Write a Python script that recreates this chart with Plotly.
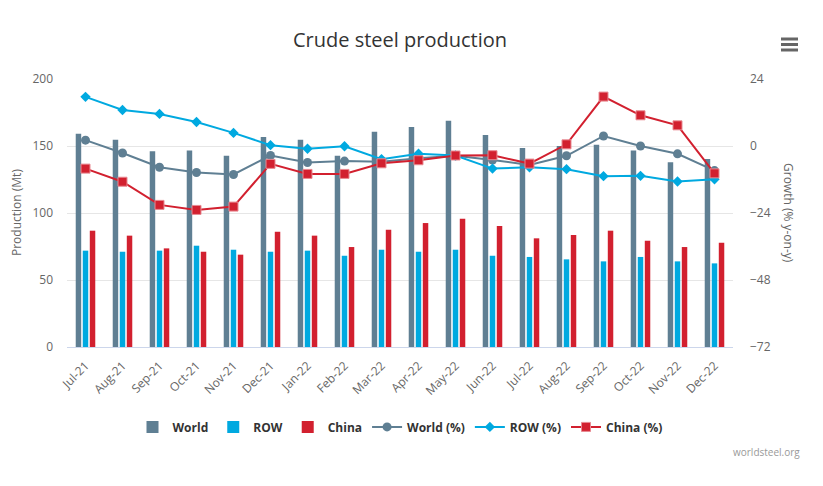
import plotly.graph_objects as go

months = ["Jul-21", "Aug-21", "Sep-21", "Oct-21", "Nov-21", "Dec-21",
          "Jan-22", "Feb-22", "Mar-22", "Apr-22", "May-22", "Jun-22",
          "Jul-22", "Aug-22", "Sep-22", "Oct-22", "Nov-22", "Dec-22"]

world_mt = [159.2, 154.7, 146.0, 146.7, 142.8, 156.7, 154.7, 142.8, 160.7,
            164.2, 168.9, 158.2, 148.5, 150.0, 151.0, 146.7, 137.8, 140.3]
row_mt = [71.9, 71.1, 71.9, 75.6, 72.6, 71.1, 71.9, 68.1, 72.6,
          71.1, 72.6, 68.1, 67.2, 65.4, 63.9, 67.2, 63.9, 62.4]
china_mt = [86.8, 83.1, 73.6, 71.1, 68.9, 86.0, 83.1, 74.6, 87.5,
            92.5, 95.7, 90.3, 81.1, 83.6, 86.8, 79.3, 74.6, 77.8]

world_pct = [2.1, -2.5, -7.6, -9.5, -10.2, -3.4, -5.9, -5.4, -5.6,
             -4.4, -3.5, -5.0, -6.8, -3.5, 3.6, 0.0, -2.8, -8.8]
row_pct = [17.6, 12.9, 11.5, 8.6, 4.7, 0.3, -1.0, -0.1, -4.7,
           -2.8, -3.4, -8.1, -7.6, -8.3, -10.8, -10.7, -12.7, -11.9]
china_pct = [-8.1, -12.8, -21.1, -22.9, -21.7, -6.4, -10.0, -10.0, -6.2,
             -5.1, -3.4, -3.3, -6.3, 0.6, 17.7, 11.0, 7.4, -9.8]

C_WORLD = "#5f7f93"
C_ROW = "#00a9e0"
C_CHINA = "#d2202f"
FONT = "Open Sans"

# page body has an 8px margin; figure is sized/offset to compensate
W, H = 815, 478
OFF = 8

fig = go.Figure()
fig.add_trace(go.Bar(name="World", x=months, y=world_mt, marker_color=C_WORLD,
                     marker_line_width=0))
fig.add_trace(go.Bar(name="ROW", x=months, y=row_mt, marker_color=C_ROW,
                     marker_line_width=0))
fig.add_trace(go.Bar(name="China", x=months, y=china_mt, marker_color=C_CHINA,
                     marker_line_width=0))
fig.add_trace(go.Scatter(name="World (%)", x=months, y=world_pct, yaxis="y2",
                         mode="lines+markers", line=dict(color=C_WORLD, width=2),
                         marker=dict(symbol="circle", size=9, color=C_WORLD)))
fig.add_trace(go.Scatter(name="ROW (%)", x=months, y=row_pct, yaxis="y2",
                         mode="lines+markers", line=dict(color=C_ROW, width=2),
                         marker=dict(symbol="diamond", size=8, color=C_ROW)))
fig.add_trace(go.Scatter(name="China (%)", x=months, y=china_pct, yaxis="y2",
                         mode="lines+markers", line=dict(color=C_CHINA, width=2),
                         marker=dict(symbol="square", size=9, color=C_CHINA,
                                     line=dict(color="#e88a92", width=1))))

# plot area in page pixels: x 67..733, y 79..347
fig.update_layout(
    width=W, height=H,
    margin=dict(l=67 - OFF, r=W - (733 - OFF), t=79 - OFF, b=H - (347 - OFF),
                autoexpand=False),
    paper_bgcolor="white", plot_bgcolor="white",
    font=dict(family=FONT, color="#666666", size=11),
    title=dict(text="Crude steel production", x=(400 - OFF) / W, xanchor="center",
               y=1 - (40 - OFF) / H, yanchor="middle", xref="container",
               yref="container",
               font=dict(family=FONT, size=20, color="#333333")),
    barmode="group", bargap=0.43, bargroupgap=0.22,
    showlegend=True,
    legend=dict(orientation="h", x=0.5, xanchor="center", y=-0.244, yanchor="top",
                font=dict(family=FONT, size=12, color="#333333", weight="bold"),
                itemwidth=30, tracegroupgap=0),
    xaxis=dict(type="category", range=[-0.5, len(months) - 0.5], autorange=False,
               tickangle=-45, showgrid=False,
               showline=True, linecolor="#ccd6eb", linewidth=1,
               ticks="", tickfont=dict(size=12, color="#666666"),
               ticklabelstandoff=6, fixedrange=True),
    yaxis=dict(range=[0, 200], dtick=50, tick0=0, showgrid=True,
               gridcolor="#e6e6e6", gridwidth=1, zeroline=False,
               showline=False, ticks="", tickfont=dict(size=12, color="#666666"),
               ticklabelstandoff=13),
    yaxis2=dict(range=[-72, 24], dtick=24, tick0=0, overlaying="y", side="right",
                showgrid=False, zeroline=False, showline=False, ticks="",
                tickfont=dict(size=12, color="#666666"), ticklabelstandoff=16),
    annotations=[
        dict(text="Production (Mt)", xref="paper", yref="paper",
             x=(16 - 67) / 666, y=(347 - 213) / 268, textangle=-90,
             showarrow=False, font=dict(size=12, color="#666666"),
             xanchor="center", yanchor="middle"),
        dict(text="Growth (% y-on-y)", xref="paper", yref="paper",
             x=(789 - 67) / 666, y=(347 - 213) / 268, textangle=90,
             showarrow=False, font=dict(size=12, color="#666666"),
             xanchor="center", yanchor="middle"),
        dict(text="worldsteel.org", xref="paper", yref="paper",
             x=(802 - 67) / 666, y=(347 - 452) / 268, showarrow=False,
             font=dict(size=10, color="#999999"), xanchor="right", yanchor="middle"),
    ],
    shapes=[
        dict(type="line", xref="paper", yref="paper",
             x0=(781 - 67) / 666, x1=(798 - 67) / 666,
             y0=(347 - yy) / 268, y1=(347 - yy) / 268,
             line=dict(color="#666666", width=3))
        for yy in (39, 44.5, 50)
    ],
)

fig.write_html("out.html")
